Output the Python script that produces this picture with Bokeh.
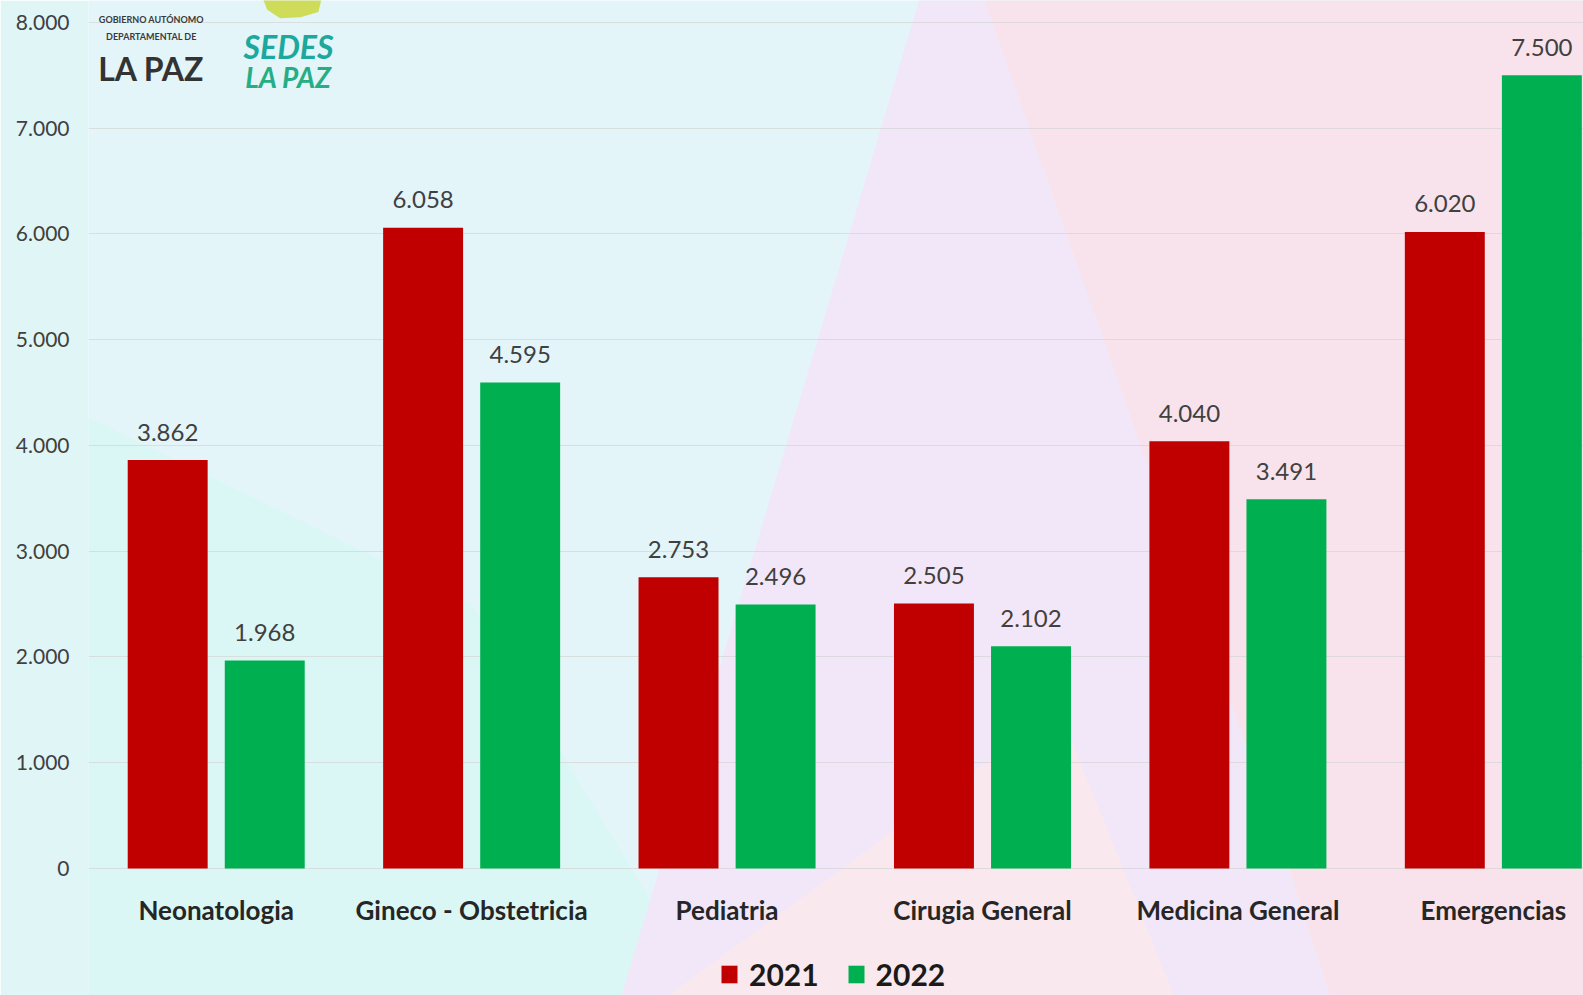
import numpy as np
from bokeh.plotting import figure
from bokeh.models import ColumnDataSource, FixedTicker, Legend, LegendItem, Range1d
from bokeh.transform import dodge
from bokeh.core.properties import value
from bokeh.embed import file_html
from bokeh.resources import INLINE

# ---- data ----
categories = ["Neonatologia", "Gineco - Obstetricia", "Pediatria",
              "Cirugia General", "Medicina General", "Emergencias"]
years = ["2021", "2022"]
values_2021 = [3862, 6058, 2753, 2505, 4040, 6020]
values_2022 = [1968, 4595, 2496, 2102, 3491, 7500]
y_ticks = [0, 1000, 2000, 3000, 4000, 5000, 6000, 7000, 8000]
y_tick_labels = ["0", "1.000", "2.000", "3.000", "4.000", "5.000", "6.000", "7.000", "8.000"]


def fmt(v):
    return f"{v:,}".replace(",", ".")


FONT = "Lato"
RED = "#C00000"
GREEN = "#00B050"

x = np.arange(len(categories))
src = ColumnDataSource(dict(
    x=x, cat=categories,
    v21=values_2021, v22=values_2022,
    l21=[fmt(v) for v in values_2021], l22=[fmt(v) for v in values_2022],
))

# frame fills the whole height; the x axis is drawn at y = 0 inside it
p = figure(width=1583, height=995, output_backend="svg", toolbar_location=None,
           x_range=Range1d(-0.5, 5.353), y_range=Range1d(-1201, 8208),
           min_border_left=88, min_border_right=0, min_border_top=0,
           min_border_bottom=0)
p.outline_line_color = None
p.border_fill_color = "#e0f5f6"
p.background_fill_color = "#e3f5f9"

# decorative pastel background shapes
bg_xs = [
    [-0.7, 2.0, 1.0, -0.7],
    [2.8, 2.95, 4.2, 4.4, 1.55],
    [2.95, 5.6, 5.6, 4.4, 4.2],
    [1.6, 3.8, 3.3],
    [0.17, 0.42, 0.40, 0.33, 0.25, 0.20],
]
bg_ys = [
    [-1500, -1500, 2500, 4500],
    [8600, 8600, 0, -1500, -1500],
    [8600, 8600, -1500, -1500, 0],
    [-1500, -1500, 1500],
    [8300, 8300, 8100, 8050, 8040, 8120],
]
bg_colors = ["#daf7f5", "#f2e7f8", "#f8e3ec", "#f9e9ee", "#cfdc5a"]
p.patches(xs=bg_xs, ys=bg_ys, fill_color=bg_colors, line_color=None, level="image")

# bars
r1 = p.vbar(x=dodge("x", -0.19), top="v21", width=0.313, source=src,
            fill_color=RED, line_color=None)
r2 = p.vbar(x=dodge("x", 0.19), top="v22", width=0.313, source=src,
            fill_color=GREEN, line_color=None)

# value labels
for off, lab, val in ((-0.19, "l21", "v21"), (0.19, "l22", "v22")):
    p.text(x=dodge("x", off), y=val, text=lab, source=src,
           text_align="center", text_baseline="alphabetic", y_offset=-28,
           text_font=value(FONT), text_font_size="24px", text_color="#404040")

# logo texts (top-left)
p.text(x=[-0.254, -0.254], y=[8028, 7867],
       text=["GOBIERNO AUTÓNOMO", "DEPARTAMENTAL DE"],
       text_align="center", text_baseline="middle", text_font=value(FONT),
       text_font_style="bold", text_font_size="9px", text_color="#3a3a3a")
p.text(x=[-0.254], y=[7565], text=["LA PAZ"], text_align="center",
       text_baseline="middle", text_font=value(FONT), text_font_style="bold",
       text_font_size="32px", text_color="#333333")
p.text(x=[0.283], y=[7773], text=["SEDES"], text_align="center",
       text_baseline="middle", text_font=value(FONT), text_font_style="bold italic",
       text_font_size="32px", text_color="#1aa99c")
p.text(x=[0.283], y=[7489], text=["LA PAZ"], text_align="center",
       text_baseline="middle", text_font=value(FONT), text_font_style="bold italic",
       text_font_size="28px", text_color="#25ae86")

# axes
p.yaxis.ticker = FixedTicker(ticks=y_ticks)
p.yaxis.major_label_overrides = {int(t): l for t, l in zip(y_ticks, y_tick_labels)}
p.yaxis.axis_line_color = None
p.yaxis.major_tick_line_color = None
p.yaxis.minor_tick_line_color = None
p.yaxis.major_label_text_font = FONT
p.yaxis.major_label_text_font_size = "21px"
p.yaxis.major_label_text_color = "#404040"
p.yaxis.major_label_standoff = 13

p.xaxis.fixed_location = 0
p.xaxis.ticker = FixedTicker(ticks=[int(i) for i in x])
p.xaxis.major_label_overrides = {int(i): c for i, c in zip(x, categories)}
p.xaxis.axis_line_color = None
p.xaxis.major_tick_line_color = None
p.xaxis.minor_tick_line_color = None
p.xaxis.major_label_text_font = FONT
p.xaxis.major_label_text_font_style = "bold"
p.xaxis.major_label_text_font_size = "26px"
p.xaxis.major_label_text_color = "#262626"
p.xaxis.major_label_standoff = 20

p.xgrid.grid_line_color = None
p.ygrid.grid_line_color = "#d4d4d4"
p.ygrid.grid_line_alpha = 0.7

legend = Legend(
    items=[LegendItem(label=years[0], renderers=[r1]),
           LegendItem(label=years[1], renderers=[r2])],
    location=(631, 3), orientation="horizontal",
    label_text_font=FONT, label_text_font_style="bold",
    label_text_font_size="30px", label_text_color="#1a1a1a",
    glyph_width=20, glyph_height=22, label_standoff=10, spacing=27,
    padding=0, margin=0, border_line_color=None, background_fill_alpha=0,
)
p.add_layout(legend)

open("out.html", "w").write(file_html(p, INLINE))
